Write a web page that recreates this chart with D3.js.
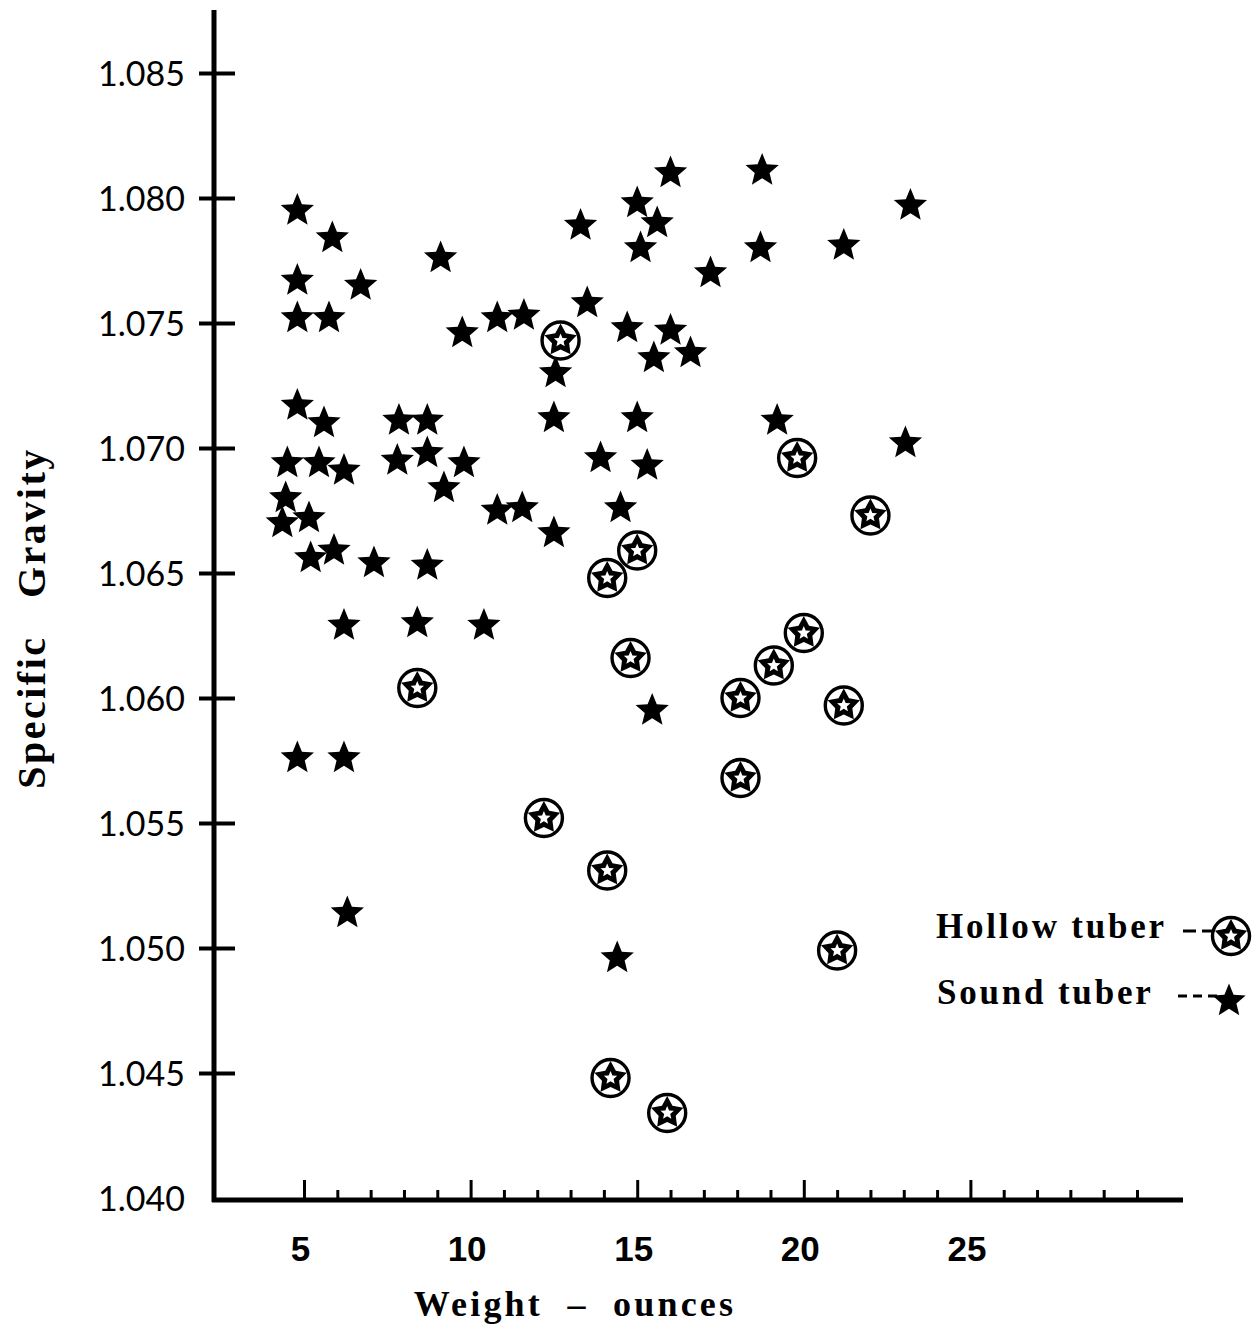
<!DOCTYPE html>
<html lang='en'>
	<head>
		<title>Specific gravity and weight of tubers</title>
		<meta charset=utf-8>
		<script src="https://cdn.jsdelivr.net/npm/d3@7/dist/d3.min.js" charset="utf-8"></script>
		<style>
			body {
				margin: 0;
				background-color: white;
			}
			svg text {
				fill: black;
			}
			.ylab {
				font-family: Lato, "Open Sans", sans-serif;
				font-size: 34px;
			}
			.xlab {
				font-family: "Liberation Sans", Arial, sans-serif;
				font-weight: bold;
				font-size: 35px;
			}
			.title, .legend {
				font-family: "Liberation Serif", "Times New Roman", serif;
				font-weight: bold;
				white-space: pre;
			}
		</style>
	</head>
	<body>
		<svg id='chart' width="1258" height="1330"></svg>
	</body>

	<script>
		// data
		var soundWeight = [4.8, 5.85, 4.8, 6.7, 4.8, 5.75, 9.1, 9.75, 10.8, 11.6,
			13.3, 13.5, 12.55, 12.5, 15.0, 15.6, 15.1, 16.0, 14.7, 15.5,
			16.0, 16.6, 17.2, 18.75, 18.7, 21.2, 23.2, 19.2, 23.05, 4.8,
			5.6, 4.5, 5.45, 6.2, 7.85, 8.7, 7.8, 8.7, 9.8, 9.2,
			4.45, 5.15, 4.35, 5.2, 5.9, 7.1, 8.7, 6.2, 8.4, 10.4,
			10.8, 11.55, 12.5, 13.9, 15.0, 15.3, 14.5, 15.45, 4.8, 6.2,
			6.3, 14.4];
		var soundGravity = [1.0795, 1.0784, 1.0767, 1.0765, 1.0752, 1.0752, 1.0776, 1.0746, 1.0752, 1.0753,
			1.0789, 1.0758, 1.0730, 1.0712, 1.0798, 1.0790, 1.0780, 1.0810, 1.0748, 1.0736,
			1.0747, 1.0738, 1.0770, 1.0811, 1.0780, 1.0781, 1.0797, 1.0711, 1.0702, 1.0717,
			1.0710, 1.0694, 1.0694, 1.0691, 1.0711, 1.0711, 1.0695, 1.0698, 1.0694, 1.0684,
			1.0680, 1.0672, 1.0670, 1.0656, 1.0659, 1.0654, 1.0653, 1.0629, 1.0630, 1.0629,
			1.0675, 1.0676, 1.0666, 1.0696, 1.0712, 1.0693, 1.0676, 1.0595, 1.0576, 1.0576,
			1.0514, 1.0496];
		var hollowWeight = [12.7, 19.8, 22.0, 15.0, 14.1, 14.8, 8.4, 20.0, 19.1, 18.1,
			21.2, 18.1, 12.2, 14.1, 21.0, 14.2, 15.9];
		var hollowGravity = [1.0743, 1.0696, 1.0673, 1.0659, 1.0648, 1.0616, 1.0604, 1.0626, 1.0613, 1.0600,
			1.0597, 1.0568, 1.0552, 1.0531, 1.0499, 1.0448, 1.0434];

		var yTicks = [1.040, 1.045, 1.050, 1.055, 1.060, 1.065, 1.070, 1.075, 1.080, 1.085];
		var xTicks = d3.range(5, 31);
		var xLabels = [5, 10, 15, 20, 25];
		var legendNames = ['Hollow tuber', 'Sound tuber'];

		var svg = d3.select('#chart');

		var x = d3.scaleLinear().domain([5, 30]).range([304, 1137]);
		var y = d3.scaleLinear().domain([1.040, 1.085]).range([1198, 73]);

		// axis corner
		var ox = 214, oy = 1200;

		// five pointed star, point up
		var star = function(R, r) {
			var p = d3.path();
			for (var i = 0; i < 10; i = i + 1) {
				var rad = (i % 2 === 0) ? R : r;
				var a = -Math.PI / 2 + i * Math.PI / 5;
				if (i === 0) p.moveTo(rad * Math.cos(a), rad * Math.sin(a));
				else p.lineTo(rad * Math.cos(a), rad * Math.sin(a));
			}
			p.closePath();
			return p.toString();
		};

		// y axis
		var yAxis = d3.axisLeft(y).tickValues(yTicks).tickSize(0).tickPadding(0)
			.tickFormat(d3.format('.3f'));
		var gy = svg.append('g').attr('transform', 'translate(' + ox + ',0)').call(yAxis);
		gy.select('.domain').remove();
		gy.selectAll('.tick line')
			.attr('x1', -15).attr('x2', 21)
			.attr('stroke', 'black').attr('stroke-width', 4)
			.filter(function(d) { return d === 1.040; }).remove();
		gy.selectAll('.tick text')
			.attr('class', 'ylab').attr('x', -29).attr('dy', '0.36em')
			.attr('font-size', null).attr('font-family', null);

		// x axis
		var xAxis = d3.axisBottom(x).tickValues(xTicks).tickSize(0).tickPadding(0)
			.tickFormat(function(d) { return xLabels.indexOf(d) >= 0 ? d : ''; });
		var gx = svg.append('g').attr('transform', 'translate(0,' + oy + ')').call(xAxis);
		gx.select('.domain').remove();
		gx.selectAll('.tick line')
			.attr('y2', function(d) { return xLabels.indexOf(d) >= 0 ? -20 : -10; })
			.attr('stroke', 'black').attr('stroke-width', 3);
		gx.selectAll('.tick text')
			.attr('class', 'xlab').attr('y', 61).attr('dy', 0).attr('x', -4)
			.attr('font-size', null).attr('font-family', null);

		// axis lines
		svg.append('line').attr('x1', ox).attr('y1', 10).attr('x2', ox).attr('y2', oy + 2)
			.attr('stroke', 'black').attr('stroke-width', 5);
		svg.append('line').attr('x1', ox - 2).attr('y1', oy).attr('x2', 1183).attr('y2', oy)
			.attr('stroke', 'black').attr('stroke-width', 5);

		// axis titles
		svg.append('text').attr('class', 'title')
			.attr('x', 575).attr('y', 1316).attr('text-anchor', 'middle')
			.attr('font-size', 36).attr('letter-spacing', 3.2)
			.text('Weight  –  ounces');
		svg.append('text').attr('class', 'title')
			.attr('transform', 'translate(45,618) rotate(-90)').attr('text-anchor', 'middle')
			.attr('font-size', 40).attr('letter-spacing', 2.5)
			.text('Specific   Gravity');

		// sound tubers
		svg.append('g').selectAll('path').data(d3.range(soundWeight.length)).join('path')
			.attr('d', star(17.5, 7.8))
			.attr('transform', function(i) { return 'translate(' + x(soundWeight[i]) + ',' + y(soundGravity[i]) + ')'; })
			.attr('fill', 'black');

		// hollow tubers
		var hollow = function(g) {
			g.append('circle').attr('r', 18.5).attr('fill', 'white').attr('stroke', 'black').attr('stroke-width', 3.4);
			g.append('path').attr('d', star(17, 9)).attr('fill', 'black');
			g.append('path').attr('d', star(7, 3.2)).attr('fill', 'white');
		};
		svg.append('g').selectAll('g').data(d3.range(hollowWeight.length)).join('g')
			.attr('transform', function(i) { return 'translate(' + x(hollowWeight[i]) + ',' + y(hollowGravity[i]) + ')'; })
			.call(hollow);

		// legend
		svg.append('text').attr('class', 'legend').attr('x', 936).attr('y', 938)
			.attr('font-size', 35).attr('letter-spacing', 2.8).text(legendNames[0]);
		svg.append('line').attr('x1', 1183).attr('y1', 931).attr('x2', 1222).attr('y2', 931)
			.attr('stroke', 'black').attr('stroke-width', 3).attr('stroke-dasharray', '13,6');
		svg.append('g').attr('transform', 'translate(1231,936)').call(hollow);

		svg.append('text').attr('class', 'legend').attr('x', 937).attr('y', 1004)
			.attr('font-size', 35).attr('letter-spacing', 2.8).text(legendNames[1]);
		svg.append('line').attr('x1', 1178).attr('y1', 996).attr('x2', 1222).attr('y2', 996)
			.attr('stroke', 'black').attr('stroke-width', 3).attr('stroke-dasharray', '9,6');
		svg.append('path').attr('d', star(17.5, 7.8)).attr('transform', 'translate(1229,1001)').attr('fill', 'black');
	</script>
</html>
